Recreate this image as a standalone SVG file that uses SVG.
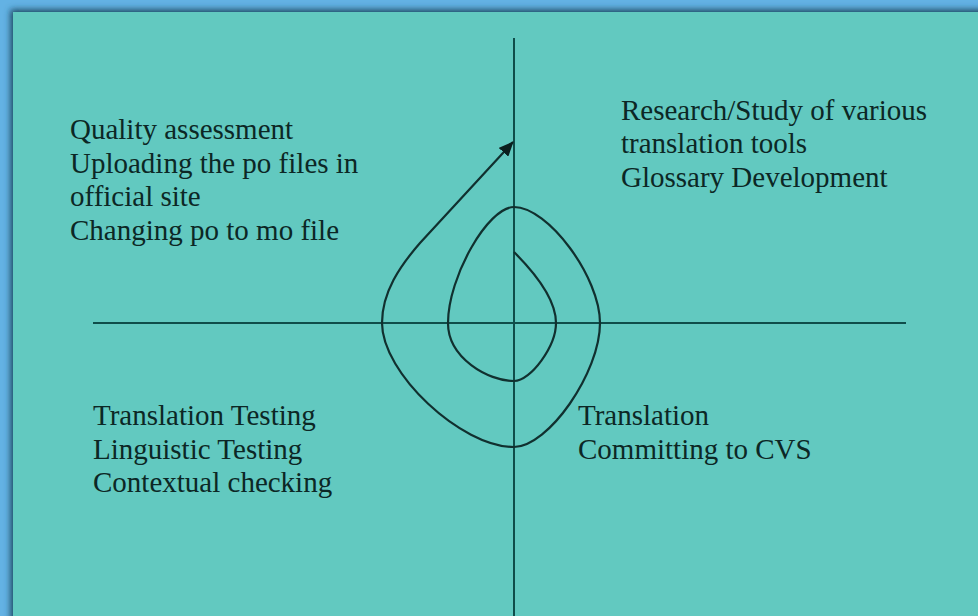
<svg xmlns="http://www.w3.org/2000/svg" width="978" height="616" viewBox="0 0 978 616">
  <defs>
    <style>
      .lbl { font-family: "Liberation Serif", "Times New Roman", serif; font-size: 29px; fill: #0c2725; }
      .axis { stroke: #0f4d4a; stroke-width: 2; fill: none; }
      .spiral { stroke: #11302f; stroke-width: 2.2; fill: none; }
    </style>
    <filter id="shadow" x="-5%" y="-5%" width="110%" height="110%">
      <feDropShadow dx="-2.5" dy="-2.5" stdDeviation="3" flood-color="#1d4a60" flood-opacity="1"/>
    </filter>
    <marker id="arrow" viewBox="0 0 15 13" refX="14" refY="6.5" markerWidth="15" markerHeight="13" markerUnits="userSpaceOnUse" orient="auto">
      <path d="M0,0 L15,6.5 L0,13 Z" fill="#0b1f1e"/>
    </marker>
  </defs>

  <rect x="0" y="0" width="978" height="616" fill="#63b2e4"/>
  <rect x="13" y="12" width="980" height="620" fill="#62c9c0" filter="url(#shadow)"/>

  <g id="connectors">
    <line class="axis" x1="514" y1="38" x2="514" y2="616"/>
    <line class="axis" x1="93" y1="323" x2="906" y2="323"/>
    <path class="spiral" marker-end="url(#arrow)" d="M514,252 C532,270 556,298 556,323 C556,346 531,381 514,381 C488,381 448,358 448,323 C448,277 488,207 514,207 C548,207 600,277 600,323 C600,373 548,447 514,447 C461,447 382,373 382,323 C382,292 400,266 420,243 L513,142"/>
  </g>

  <g id="node-top-left">
    <text class="lbl" x="70" y="139">Quality assessment</text>
    <text class="lbl" x="70" y="172.5">Uploading the po files in</text>
    <text class="lbl" x="70" y="206">official site</text>
    <text class="lbl" x="70" y="239.5">Changing po to mo file</text>
  </g>

  <g id="node-top-right">
    <text class="lbl" x="621" y="119.5">Research/Study of various</text>
    <text class="lbl" x="621" y="153">translation tools</text>
    <text class="lbl" x="621" y="186.5">Glossary Development</text>
  </g>

  <g id="node-bottom-left">
    <text class="lbl" x="93" y="425">Translation Testing</text>
    <text class="lbl" x="93" y="458.5">Linguistic Testing</text>
    <text class="lbl" x="93" y="492">Contextual checking</text>
  </g>

  <g id="node-bottom-right">
    <text class="lbl" x="578" y="425">Translation</text>
    <text class="lbl" x="578" y="458.5">Committing to CVS</text>
  </g>
</svg>
